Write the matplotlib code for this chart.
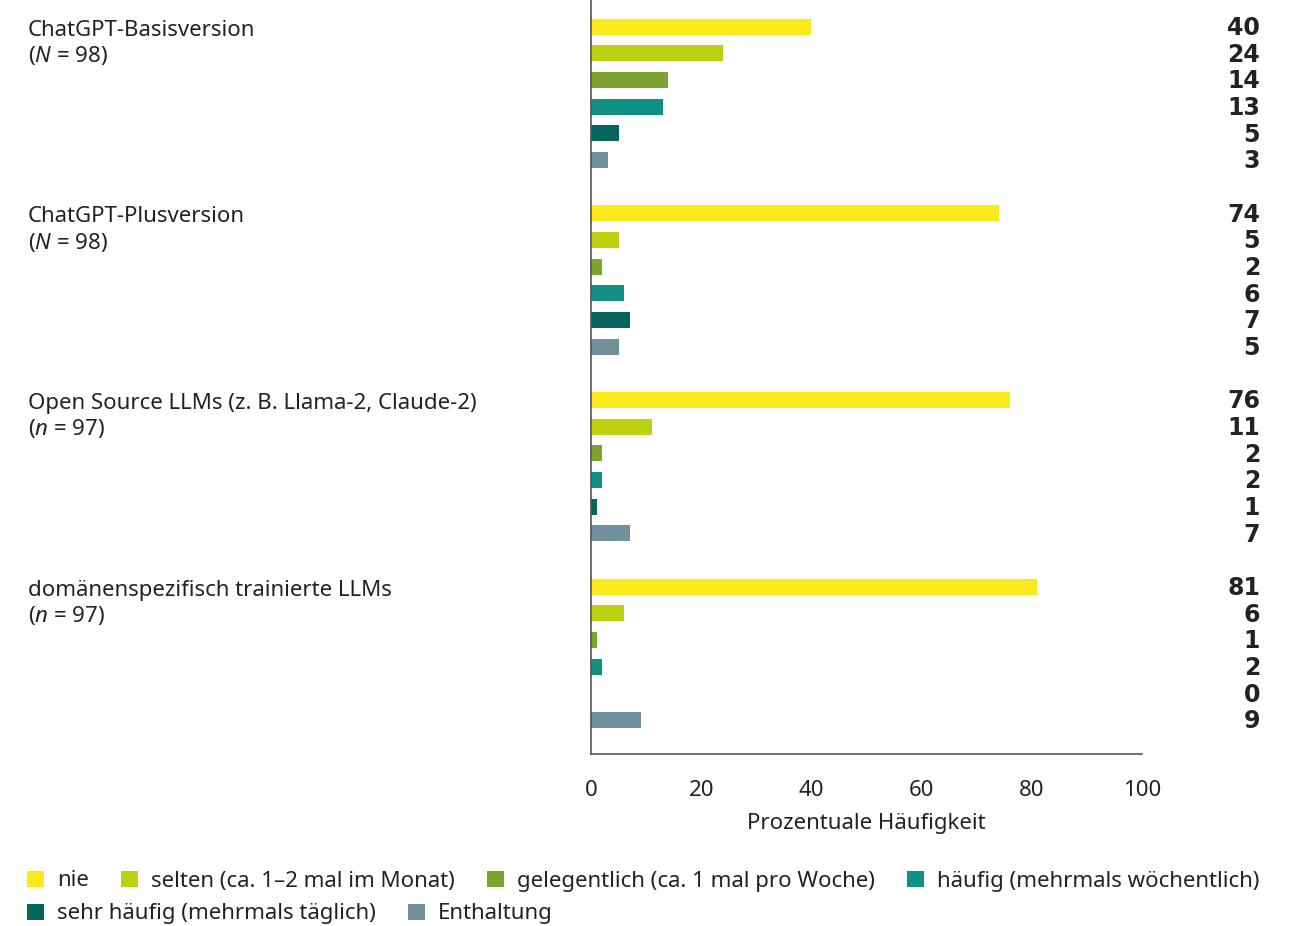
import numpy as np
import matplotlib
matplotlib.use('Agg')
import matplotlib.pyplot as plt
from matplotlib.transforms import blended_transform_factory
from matplotlib.patches import Patch

plt.rcParams['font.family'] = ['Noto Sans', 'DejaVu Sans']
plt.rcParams['mathtext.fontset'] = 'custom'
plt.rcParams['mathtext.rm'] = 'Noto Sans'
plt.rcParams['mathtext.it'] = 'Noto Sans:italic'

# Daten
groups = ['ChatGPT-Basisversion\n($\\it{N}$ = 98)',
          'ChatGPT-Plusversion\n($\\it{N}$ = 98)',
          'Open Source LLMs (z. B. Llama-2, Claude-2)\n($\\it{n}$ = 97)',
          'domänenspezifisch trainierte LLMs\n($\\it{n}$ = 97)']
categories = ['nie', 'selten (ca. 1–2 mal im Monat)', 'gelegentlich (ca. 1 mal pro Woche)',
              'häufig (mehrmals wöchentlich)', 'sehr häufig (mehrmals täglich)', 'Enthaltung']
basis = [40, 24, 14, 13, 5, 3]
plus = [74, 5, 2, 6, 7, 5]
opensource = [76, 11, 2, 2, 1, 7]
domain = [81, 6, 1, 2, 0, 9]
values = [basis, plus, opensource, domain]
colors = ['#FCE91C', '#BDD10F', '#7BA52F', '#128F83', '#05645D', '#6F8F9A']
xticks = [0, 20, 40, 60, 80, 100]

fig = plt.figure(figsize=(12.91, 9.26), dpi=100)
ax = fig.add_axes([591/1291, 1 - 754/926, (1142 - 591)/1291, 754/926])

trans = blended_transform_factory(fig.transFigure, ax.transData)
for g, (name, vals) in enumerate(zip(groups, values)):
    ypos = g * 7 + np.arange(6)
    ax.barh(ypos, vals, height=0.6, color=colors)
    for y, v in zip(ypos, vals):
        ax.text(1260/1291, y + 0.05, str(v), transform=trans, ha='right', va='center',
                fontsize=17, fontweight='bold', family='DejaVu Sans', color='#222222')
    ax.text(28/1291, g * 7 - 0.26, name, transform=trans, ha='left', va='top',
            fontsize=16, color='#222222', linespacing=1.18)

ax.set_xlim(0, 100)
ax.set_ylim(27.27, -1.0)
ax.set_yticks([])
ax.set_xticks(xticks)
ax.tick_params(axis='x', length=0, pad=19, labelsize=16, labelcolor='#222222')
ax.set_xlabel('Prozentuale Häufigkeit', fontsize=16, color='#222222', labelpad=8)
for s in ['top', 'right']:
    ax.spines[s].set_visible(False)
for s in ['left', 'bottom']:
    ax.spines[s].set_color('#555555')
    ax.spines[s].set_linewidth(1.2)

handles = [Patch(facecolor=c, edgecolor='none') for c in colors]
leg_kw = dict(frameon=False, fontsize=16, handlelength=0.75, handleheight=0.75,
              handletextpad=0.6, borderaxespad=0, borderpad=0, labelcolor='#222222')
leg1 = fig.legend(handles[:4], categories[:4], ncol=4, loc='center left',
                  bbox_to_anchor=(27/1291, 1 - 881/926), columnspacing=1.45, **leg_kw)
leg2 = fig.legend(handles[4:], categories[4:], ncol=2, loc='center left',
                  bbox_to_anchor=(27/1291, 1 - 914/926), columnspacing=1.45, **leg_kw)

fig.savefig('out.png', dpi=100)
